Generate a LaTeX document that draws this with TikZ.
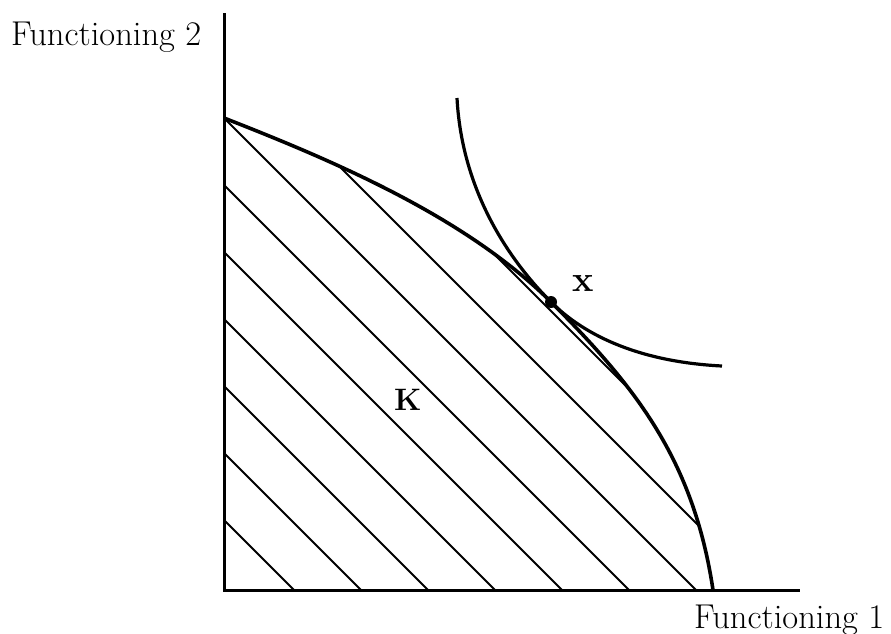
\documentclass[tikz,border=0pt]{standalone}
\usepackage{fontspec}
\begin{document}
\begin{tikzpicture}[x=1pt,y=-1pt,
  axis/.style={line width=3pt},
  frontier/.style={line width=3.6pt},
  hatch/.style={line width=1.8pt},
  indiff/.style={line width=3.2pt},
  lab/.style={inner sep=0pt, anchor=base west, font=\fontsize{34.5}{40}\selectfont},
  boldlab/.style={inner sep=0pt, anchor=base west, font=\bfseries\fontsize{31}{36}\selectfont},
  dot/.style={circle, fill=black, inner sep=0pt, minimum size=12pt}]
\useasboundingbox (0,0) rectangle (891,633);
\coordinate (O) at (224,590);
\coordinate (Ytop) at (224,13);
\coordinate (Xend) at (800,590);
\coordinate (A) at (224,118);
\coordinate (T) at (551,302);
\coordinate (B) at (713,590);
\coordinate (I1) at (457,98);
\coordinate (I2) at (722,366);
% hatching, clipped to the feasible set K
\begin{scope}
\clip (O) -- (A) .. controls (334,161) and (466,217) .. (T)
      .. controls (636,387) and (693.5,460) .. (B) -- cycle;
\foreach \c in {240,173,106,39,-28,-95,-162,-229,-296}
  \draw[hatch] ({100},{100-\c}) -- ({900},{900-\c});
\end{scope}
% frontier
\draw[frontier] (A) .. controls (334,161) and (466,217) .. (T)
      .. controls (636,387) and (693.5,460) .. (B);
% indifference curve
\draw[indiff] (I1) .. controls (462,193) and (511,262) .. (T)
      .. controls (586,337) and (642,362) .. (I2);
% axes
\draw[axis] (Ytop) -- (O) -- (Xend);
% point x
\node[dot] (x) at (T) {};
\node[boldlab, font=\bfseries\fontsize{36}{40}\selectfont] (xl) at (572,291) {x};
\node[boldlab] (K) at (394,410) {K};
\node[lab] (f2) at (11,45) {Functioning 2};
\node[lab] (f1) at (694,628) {Functioning 1};
\end{tikzpicture}
\end{document}
